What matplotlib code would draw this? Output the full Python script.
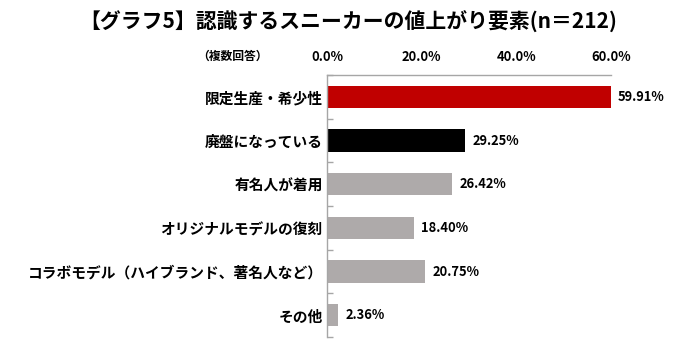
import numpy as np
import matplotlib
matplotlib.use('Agg')
import matplotlib.pyplot as plt
from matplotlib.ticker import FixedLocator, FuncFormatter

plt.rcParams['font.family'] = ['Noto Sans CJK JP', 'DejaVu Sans']

categories = ['限定生産・希少性', '廃盤になっている', '有名人が着用',
              'オリジナルモデルの復刻', 'コラボモデル（ハイブランド、著名人など）', 'その他']
values = [59.91, 29.25, 26.42, 18.40, 20.75, 2.36]
colors = ['#C00000', '#000000', '#AEAAAA', '#AEAAAA', '#AEAAAA', '#AEAAAA']
xticks = [0, 20, 40, 60]

W, H = 686, 347
fig = plt.figure(figsize=(W / 100, H / 100), dpi=100)
ax = fig.add_axes([327 / W, 1 - 337 / H, (611 - 327) / W, (337 - 75) / H])

y = np.arange(len(categories))
ax.barh(y, values, height=0.51, color=colors)
ax.set_xlim(0, 60)
ax.set_ylim(len(categories) - 0.5, -0.5)

for yi, v in zip(y, values):
    ax.text(v + 1.5, yi, f'{v:.2f}%', va='center', ha='left',
            fontsize=9.3, fontweight='bold')

ax.set_yticks(y)
ax.set_yticklabels(categories, fontsize=10.6, fontweight='bold')
ax.tick_params(axis='y', which='major', length=0, pad=3)
ax.yaxis.set_minor_locator(FixedLocator(np.arange(len(categories) + 1) - 0.5))
ax.tick_params(axis='y', which='minor', direction='in', length=4,
               color='#A6A6A6', width=1)

ax.xaxis.tick_top()
ax.set_xticks(xticks)
ax.xaxis.set_major_formatter(FuncFormatter(lambda v, p: f'{v:.1f}%'))
ax.tick_params(axis='x', length=0, pad=8, labelsize=9.3)
for lab in ax.get_xticklabels():
    lab.set_fontweight('bold')

for s in ['right', 'bottom']:
    ax.spines[s].set_visible(False)
for s in ['left', 'top']:
    ax.spines[s].set_color('#A6A6A6')
    ax.spines[s].set_linewidth(1)

fig.text(197 / W, 1 - 56 / H, '（複数回答）', fontsize=8.5, fontweight='bold',
         ha='left', va='center')
fig.text(348 / W, 1 - 22 / H, '【グラフ5】認識するスニーカーの値上がり要素(n＝212)',
         fontsize=15, fontweight='bold', ha='center', va='center')

fig.savefig('out.png', dpi=100)
